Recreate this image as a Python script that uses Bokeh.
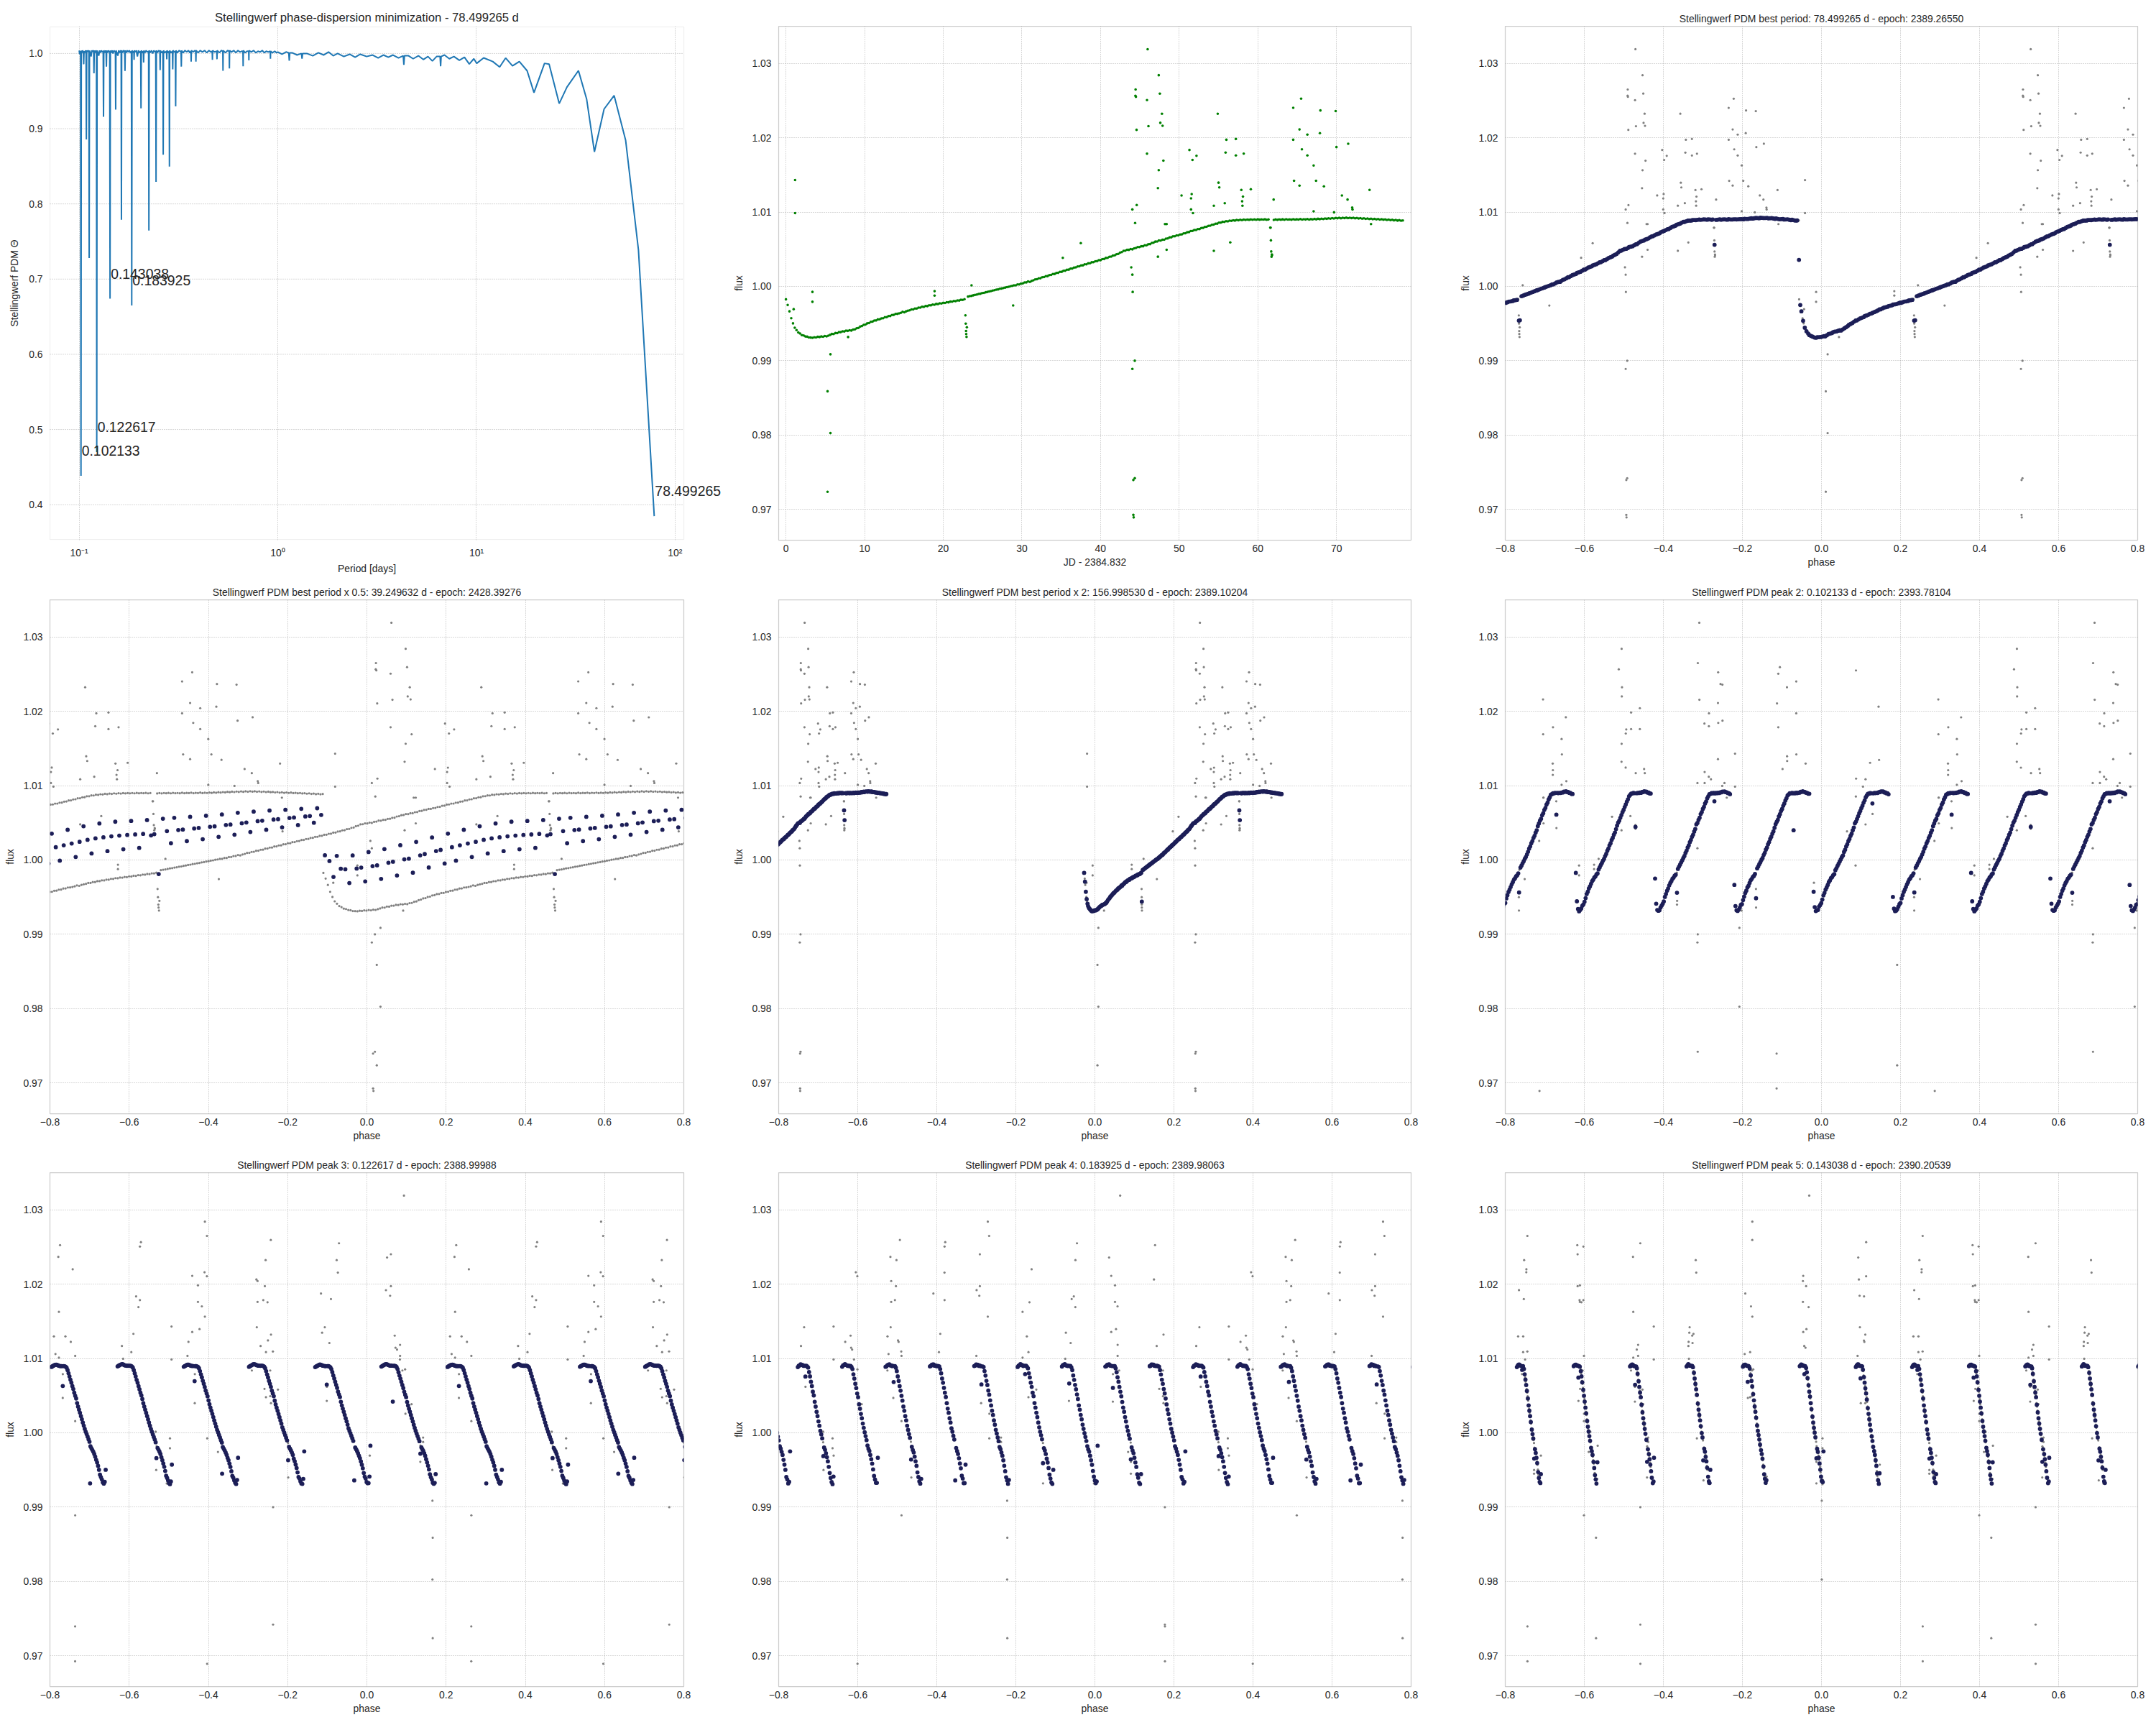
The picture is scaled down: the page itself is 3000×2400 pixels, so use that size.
import numpy as np
from bokeh.plotting import figure
from bokeh.layouts import column, row
from bokeh.models import (Range1d, FixedTicker, PrintfTickFormatter, CustomJSTickFormatter,
                          Label, Title, BoxAnnotation)
from bokeh.embed import file_html
from bokeh.resources import INLINE

# ------------------------------------------------------------------ data
# Stellingwerf PDM periodogram (period [d], theta)
pdm_period = [
    0.1000, 0.1006, 0.1012, 0.1017, 0.102133, 0.1025, 0.1033, 0.1041, 0.1050, 0.1054,
    0.1058, 0.1068, 0.1078, 0.1083, 0.1087, 0.1091, 0.1101, 0.1112, 0.1119, 0.1123,
    0.1127, 0.1137, 0.1148, 0.1158, 0.1168, 0.1178, 0.1183, 0.1187, 0.1191, 0.1203,
    0.1214, 0.1222, 0.122617, 0.1231, 0.1243, 0.1255, 0.1267, 0.1280, 0.1293, 0.1306,
    0.1321, 0.1326, 0.1331, 0.1345, 0.1358, 0.1366, 0.1371, 0.1376, 0.1390, 0.1404,
    0.1420, 0.1425, 0.143038, 0.1436, 0.1450, 0.1466, 0.1481, 0.1497, 0.1512, 0.1522,
    0.1527, 0.1532, 0.1548, 0.1565, 0.1582, 0.1600, 0.1620, 0.1627, 0.1632, 0.1637,
    0.1655, 0.1675, 0.1695, 0.1701, 0.1707, 0.1727, 0.1747, 0.1768, 0.1789, 0.1810,
    0.1832, 0.183925, 0.1846, 0.1868, 0.1885, 0.1890, 0.1895, 0.1918, 0.1941, 0.1964,
    0.1988, 0.2012, 0.2040, 0.2048, 0.2056, 0.2080, 0.2104, 0.2111, 0.2118, 0.2146,
    0.2174, 0.2203, 0.2236, 0.2244, 0.2252, 0.2282, 0.2313, 0.2344, 0.2376, 0.2408,
    0.2429, 0.2438, 0.2447, 0.2480, 0.2514, 0.2548, 0.2556, 0.2564, 0.2600, 0.2640,
    0.2649, 0.2658, 0.2700, 0.2752, 0.2761, 0.2770, 0.2810, 0.2838, 0.2847, 0.2856,
    0.2900, 0.2949, 0.2958, 0.2967, 0.3010, 0.3050, 0.3060, 0.3070, 0.3120, 0.3190,
    0.3258, 0.3268, 0.3278, 0.3340, 0.3410, 0.3480, 0.3550, 0.3610, 0.3652, 0.3662,
    0.3672, 0.3750, 0.3830, 0.3860, 0.3870, 0.3880, 0.3970, 0.4070, 0.4170, 0.4280,
    0.4390, 0.4500, 0.4610, 0.4676, 0.4686, 0.4696, 0.4800, 0.4928, 0.4940, 0.4952,
    0.5080, 0.5200, 0.5285, 0.5297, 0.5309, 0.5450, 0.5590, 0.5692, 0.5705, 0.5718,
    0.5850, 0.6000, 0.6150, 0.6300, 0.6450, 0.6600, 0.6675, 0.6690, 0.6705, 0.6850,
    0.7000, 0.7135, 0.7150, 0.7165, 0.7350, 0.7550, 0.7750, 0.7950, 0.8150, 0.8350,
    0.8550, 0.8750, 0.8950, 0.9160, 0.9180, 0.9200, 0.9400, 0.9650, 0.9850, 1.0000,
    1.05, 1.10, 1.135, 1.142, 1.149, 1.18, 1.25, 1.315, 1.324, 1.333,
    1.40, 1.50, 1.60, 1.70, 1.80, 1.90, 2.00, 2.15, 2.30, 2.45,
    2.60, 2.80, 3.00, 3.20, 3.40, 3.60, 3.80, 4.05, 4.28, 4.31,
    4.34, 4.55, 4.80, 5.10, 5.40, 5.70, 6.00, 6.30, 6.56, 6.60,
    6.64, 6.90, 7.30, 7.70, 8.20, 8.70, 9.20, 9.70,
    10.03, 10.87, 12.08, 13.08, 14.02, 15.18, 16.44, 17.99, 19.48, 22.01,
    23.21, 26.09, 28.55, 32.61, 35.87, 39.25, 43.89, 49.33, 56.34, 65.37, 78.499265,
]
pdm_theta = [
    1.004, 0.999, 1.003, 1.002, 0.4385, 1.004, 1.001, 1.004, 1.002, 0.9857,
    1.003, 1.001, 1.004, 1.003, 0.8857, 1.004, 1.002, 1.004, 1.003, 0.728,
    1.004, 1.001, 0.996, 1.004, 1.002, 1.004, 1.003, 0.9737, 1.004, 1.001,
    1.004, 1.003, 0.470, 1.004, 1.001, 0.997, 1.004, 1.001, 1.004, 1.002,
    1.003, 0.9159, 1.004, 1.001, 1.004, 1.002, 0.9825, 1.004, 1.001, 1.004,
    1.002, 1.003, 0.674, 1.004, 1.001, 1.004, 1.000, 1.004, 1.002, 1.003,
    0.9254, 1.004, 1.001, 0.997, 1.004, 1.001, 1.004, 1.003, 0.779, 1.004,
    1.001, 1.004, 1.003, 0.9768, 1.004, 1.001, 1.004, 1.002, 1.004, 1.001,
    1.003, 0.665, 1.004, 1.001, 1.003, 0.9915, 1.004, 1.002, 1.004, 0.996,
    1.004, 1.001, 1.003, 0.927, 1.004, 1.001, 1.003, 0.988, 1.004, 1.001,
    1.004, 1.002, 1.003, 0.7646, 1.004, 1.001, 1.004, 1.000, 1.004, 1.002,
    1.003, 0.8294, 1.004, 1.001, 1.004, 1.003, 0.978, 1.004, 1.001, 1.003,
    0.8655, 1.004, 1.001, 1.003, 0.9924, 1.004, 1.001, 1.003, 0.8497, 1.004,
    1.001, 1.003, 0.9788, 1.004, 1.002, 1.003, 0.9297, 1.004, 1.001, 1.004,
    1.002, 0.9826, 1.004, 1.001, 1.004, 1.002, 1.004, 1.001, 1.003, 0.9892,
    1.004, 1.002, 1.004, 1.003, 0.9892, 1.004, 1.001, 1.004, 1.002, 1.004,
    1.001, 1.004, 1.002, 1.003, 0.9915, 1.004, 1.002, 1.003, 0.9924, 1.004,
    1.001, 1.004, 1.003, 0.977, 1.004, 1.001, 1.004, 1.003, 0.980, 1.004,
    1.002, 1.004, 1.001, 1.004, 1.002, 1.003, 1.003, 0.983, 1.004, 1.001,
    1.003, 1.003, 0.9908, 1.004, 1.002, 1.004, 1.001, 1.003, 1.002, 1.004,
    1.001, 1.003, 1.002, 1.003, 0.993, 1.003, 1.001, 1.003, 1.001, 1.002,
    0.999, 1.002, 1.001, 0.9905, 1.001, 1.001, 0.998, 1.000, 0.993, 1.000,
    1.000, 0.997, 1.001, 0.998, 1.002, 0.997, 1.000, 0.996, 0.999, 0.995,
    0.999, 0.996, 0.998, 0.994, 0.998, 0.995, 0.998, 0.994, 0.997, 0.985,
    0.997, 0.997, 0.993, 0.997, 0.992, 0.996, 0.990, 0.996, 0.996, 0.983,
    0.996, 0.998, 0.993, 0.996, 0.991, 0.995, 0.986, 0.993,
    0.9869, 0.9942, 0.9893, 0.982, 0.994, 0.9835, 0.9893, 0.977, 0.948, 0.9869,
    0.9859, 0.9334, 0.9553, 0.9772, 0.9392, 0.8692, 0.9261, 0.9441, 0.8848, 0.7389, 0.3848,
]
peak_period = [78.499265, 0.102133, 0.122617, 0.143038, 0.183925]
peak_theta = [0.3848, 0.4385, 0.470, 0.674, 0.665]
PDM_XTICKS = [0.1, 1, 10, 100]
PDM_YTICKS = [0.4, 0.5, 0.6, 0.7, 0.8, 0.9, 1.0]

# Light curve: regular samples every LC_STRIDE cadences, flux in units of 1e-5 about 1.0
JD_OFFSET = 2384.832
CADENCE_D = 0.0204317
LC_STRIDE = 11
lc_flux_e5 = [
    -173, -250, -335, -428, -497, -556, -588, -620, -634, -655,
    -660, -673, -676, -687, -688, -691, -684, -686, -678, -681,
    -673, -677, -668, -672, -662, -652, -640, -641, -627, -628,
    -615, -615, -604, -606, -595, -598, -590, -594, -580, -578,
    -563, -558, -540, -533, -517, -513, -497, -493, -477, -473,
    -459, -458, -444, -443, -430, -428, -414, -413, -399, -398,
    -384, -383, -370, -369, -363, -355, -342, -348, -335, -327,
    -321, -309, -309, -297, -297, -285, -285, -274, -275, -264,
    -265, -254, -255, -244, -246, -236, -238, -228, -230, -220,
    -222, -212, -214, -204, -206, -196, -198, -188, -190, -180,
    -181, -171, -640, -137, -131, -127, -120, -113, -110, -102,
    -98, -90, -87, -79, -74, -67, -63, -55, -51, -44,
    -40, -32, -28, -21, -16, -9, -5, 3, 7, 15,
    15, 27, 27, 39, 40, 53, 54, 67, 61, 74,
    82, 95, 96, 109, 110, 124, 125, 138, 139, 153,
    154, 167, 168, 182, 183, 196, 197, 211, 212, 225,
    226, 240, 241, 254, 256, 269, 270, 283, 284, 297,
    298, 311, 312, 325, 326, 339, 340, 353, 354, 368,
    369, 383, 385, 399, 401, 415, 418, 433, 437, 455,
    462, 479, 481, 493, 492, 503, 499, 513, 517, 530,
    529, 540, 540, 553, 554, 567, 569, 585, 589, 603,
    605, 618, 617, 629, 629, 643, 645, 659, 661, 674,
    675, 687, 687, 699, 700, 713, 715, 729, 731, 745,
    747, 759, 759, 771, 772, 785, 787, 801, 802, 815,
    817, 830, 831, 844, 845, 858, 858, 869, 868, 878,
    876, 885, 882, 890, 886, 894, 889, 897, 892, 899,
    894, 900, 896, 901, 897, 902, 897, 903, 898, 902,
    899, 903, 897, 901, 790, 420, 895, 901, 896, 902,
    898, 903, 897, 904, 899, 902, 898, 905, 899, 903,
    900, 906, 899, 904, 901, 907, 900, 905, 902, 908,
    903, 910, 905, 912, 907, 914, 910, 917, 912, 919,
    914, 921, 916, 923, 917, 924, 918, 925, 919, 924,
    918, 923, 916, 921, 914, 919, 912, 916, 909, 914,
    906, 911, 904, 909, 902, 907, 900, 904, 898, 902,
    895, 899, 892, 897, 889, 894, 886, 891, 884, 888,
]
# short dips (part of the light curve), time in days since JD_OFFSET
event_t = [22.82, 22.86, 22.90, 22.96, 23.00, 61.62, 61.66, 61.70, 61.74, 61.78]
event_flux = [0.99610, 0.99500, 0.99400, 0.99320, 0.99450,
              1.00790, 1.00620, 1.00470, 1.00400, 1.00430]
# outlying points
outlier_t = [
    1.17, 1.17, 0.99, 3.38, 3.38, 5.30, 5.30, 5.65, 5.65, 7.90,
    18.90, 18.90, 23.60, 28.90, 35.20, 37.50, 43.90, 44.05, 44.10, 44.05,
    44.35, 44.17, 44.35, 44.17, 44.22, 44.05, 44.40, 44.60, 44.46, 44.44,
    44.50, 44.58, 46.00, 45.90, 46.10, 45.90, 47.40, 47.55, 47.80, 47.60,
    47.90, 48.00, 47.40, 47.30, 48.20, 48.40, 47.30, 48.40, 51.30, 51.70,
    52.20, 50.30, 51.60, 51.50, 51.50, 51.75, 54.90, 55.00, 55.10, 56.00,
    55.90, 55.80, 54.40, 54.40, 56.50, 57.20, 57.20, 58.20, 57.90, 58.10,
    58.00, 58.05, 59.10, 62.00, 64.50, 64.50, 64.60, 65.30, 65.50, 65.60,
    65.30, 66.30, 66.30, 67.10, 67.40, 67.10, 67.95, 67.90, 68.40, 69.90,
    70.00, 69.70, 71.50, 70.70, 71.40, 72.00, 72.05, 74.20, 74.40,
]
outlier_flux = [
    1.01431, 1.00987, 0.99694, 0.99926, 0.99793, 0.98589, 0.97237, 0.99087, 0.98026, 0.99319,
    0.99936, 0.99877, 1.00015, 0.99743, 1.00385, 1.00582, 1.00257, 1.00158, 0.99926, 0.98890,
    0.99000, 0.97395, 0.97420, 0.96926, 0.96892, 1.01036, 1.00854, 1.01095, 1.02650, 1.02566,
    1.02551, 1.02107, 1.03192, 1.02507, 1.02156, 1.01786, 1.02842, 1.02595, 1.02324, 1.02201,
    1.02161, 1.01692, 1.01564, 1.01322, 1.00839, 1.00839, 1.00400, 1.00493, 1.01836, 1.01702,
    1.01757, 1.01224, 1.01243, 1.01184, 1.01036, 1.00987, 1.02324, 1.01396, 1.01332, 1.01974,
    1.01801, 1.01120, 1.01086, 1.00479, 1.00592, 1.01984, 1.01762, 1.01786, 1.01298, 1.01209,
    1.01145, 1.01086, 1.01308, 1.01169, 1.02403, 1.01974, 1.01421, 1.02112, 1.02526, 1.01845,
    1.01357, 1.02043, 1.01762, 1.01628, 1.01421, 1.01011, 1.02368, 1.02063, 1.01347, 1.02359,
    1.01875, 1.00997, 1.01920, 1.01224, 1.01169, 1.01061, 1.01036, 1.01298, 1.00839,
]

# phased panels
fold_label = ["best period", "best period x 0.5", "best period x 2",
              "peak 2", "peak 3", "peak 4", "peak 5"]
fold_period = [78.499265, 39.249632, 156.998530, 0.102133, 0.122617, 0.183925, 0.143038]
fold_epoch = [2389.26550, 2428.39276, 2389.10204, 2393.78104, 2388.99988, 2389.98063, 2390.20539]
fold_binsize = [0.004, 0.01, 0.002, 0.002, 0.002, 0.002, 0.002]

assert len(pdm_period) == len(pdm_theta)
assert len(outlier_t) == len(outlier_flux)

# ------------------------------------------------------------------ layout / style
FONT = "Liberation Sans"
TXT = "#262626"
COL_W = [1010, 1010, 980]
COL_L = [69, 73, 74]
FRAME_W = [882, 880, 880]
ROW_H = [802, 796, 802]
ROW_T = [36, 32, 33]
FRAME_H = 715
FLUX_RANGE = (0.96586, 1.03501)
GRID_KW = dict(line_color="#a9a9a9", line_alpha=0.9, line_width=1, line_dash="1 2")


def style_common(p):
    p.background_fill_color = "white"
    p.border_fill_color = "white"
    p.title.align = "center"
    p.title.text_font = FONT
    p.title.text_font_style = "normal"
    p.title.text_color = TXT
    p.title.standoff = 5
    for g in (p.xgrid, p.ygrid):
        g.grid_line_color = "#a9a9a9"
        g.grid_line_alpha = 0.9
        g.grid_line_width = 1
        g.grid_line_dash = "1 2"
    for ax in (p.xaxis, p.yaxis):
        ax.axis_line_color = None
        ax.major_tick_line_color = None
        ax.minor_tick_line_color = None
        ax.major_tick_out = 0
        ax.major_tick_in = 0
        ax.minor_tick_out = 0
        ax.minor_tick_in = 0
        ax.major_label_text_font = FONT
        ax.major_label_text_font_size = "13.9px"
        ax.major_label_text_color = TXT
        ax.axis_label_text_font = FONT
        ax.axis_label_text_font_size = "13.9px"
        ax.axis_label_text_font_style = "normal"
        ax.axis_label_text_color = TXT
    p.yaxis.major_label_standoff = 10
    p.yaxis.axis_label_standoff = 7
    p.xaxis.major_label_standoff = 6
    p.xaxis.axis_label_standoff = 3


def make_fig(r, c, x_range, y_range, title=""):
    w, h = COL_W[c], ROW_H[r]
    p = figure(width=w, height=h, x_range=x_range, y_range=y_range,
               output_backend="svg", toolbar_location=None, tools="")
    p.min_border_left = COL_L[c]
    p.min_border_right = w - COL_L[c] - FRAME_W[c]
    p.min_border_top = ROW_T[r]
    p.min_border_bottom = h - ROW_T[r] - FRAME_H
    p.outline_line_color = "#cccccc"
    p.outline_line_width = 1.25
    p.title.text = title
    p.title.text_font_size = "13.9px"
    style_common(p)
    return p


PHASE_TICKS = [-0.8, -0.6, -0.4, -0.2, 0.0, 0.2, 0.4, 0.6, 0.8]
FLUX_TICKS = [0.97, 0.98, 0.99, 1.00, 1.01, 1.02, 1.03]
phase_fmt = CustomJSTickFormatter(code="return tick.toFixed(1).replace('-', '\u2212');")

# ---- panel 1: periodogram
# visible axes box (data units); the plotting frame is extended to the right so that
# the annotation of the longest period is not cut, as in the original figure
PX0, PX1 = 0.07127, 110.6
PY0, PY1 = 0.3538, 1.0353
BOX_W, BOX_H = 882, 715
EXT_L, EXT_R, EXT_T, EXT_B = 1, 55, 1, 1
lx0, lx1 = np.log10(PX0), np.log10(PX1)
dlx = (lx1 - lx0) / BOX_W
dly = (PY1 - PY0) / BOX_H
p1 = figure(width=COL_W[0], height=ROW_H[0], x_axis_type="log",
            x_range=Range1d(10 ** (lx0 - EXT_L * dlx), 10 ** (lx1 + EXT_R * dlx)),
            y_range=Range1d(PY0 - EXT_B * dly, PY1 + EXT_T * dly),
            output_backend="svg", toolbar_location=None, tools="")
p1.min_border_left = COL_L[0] - EXT_L
p1.min_border_right = COL_W[0] - COL_L[0] - BOX_W - EXT_R
p1.min_border_top = ROW_T[0] - EXT_T
p1.min_border_bottom = ROW_H[0] - ROW_T[0] - BOX_H - EXT_B
p1.outline_line_color = None
style_common(p1)
title1 = "Stellingwerf phase-dispersion minimization - %.6f d" % peak_period[0]
p1.title.text = title1
p1.title.text_font_size = "16.7px"
p1.title.align = "left"
p1.title.offset = EXT_L + BOX_W / 2 - 0.5 * 25.34 * 16.7
p1.ygrid.visible = False
p1.segment(x0=[PX0] * len(PDM_YTICKS), x1=[PX1] * len(PDM_YTICKS),
           y0=PDM_YTICKS, y1=PDM_YTICKS, **GRID_KW)
p1.line(pdm_period, pdm_theta, line_color="#1f77b4", line_width=2)
p1.add_layout(BoxAnnotation(left=PX0, right=PX1, bottom=PY0, top=PY1,
                            fill_alpha=0, line_color="#cccccc", line_width=1.25))
for per, th in zip(peak_period, peak_theta):
    p1.add_layout(Label(x=per, y=th, text="%.6f" % per, x_offset=1, y_offset=35,
                        text_font=FONT, text_font_size="19.4px", text_color=TXT,
                        text_align="left", text_baseline="alphabetic"))
p1.xaxis.ticker = FixedTicker(ticks=PDM_XTICKS, minor_ticks=[])
p1.xaxis.formatter = CustomJSTickFormatter(code="""
const sup = {'-1': '\u207b\u00b9', '0': '\u2070', '1': '\u00b9', '2': '\u00b2'};
const e = Math.round(Math.log10(tick));
return '10' + sup[String(e)];
""")
p1.yaxis.ticker = FixedTicker(ticks=PDM_YTICKS, minor_ticks=[])
p1.yaxis.formatter = PrintfTickFormatter(format="%.1f")
p1.yaxis.axis_label = "Stellingwerf PDM \u0398"
p1.xaxis.major_label_standoff = 9
p1.yaxis.major_label_standoff = 9
p1.yaxis.axis_label_standoff = 9
p1.add_layout(Title(text="Period [days]", align="left",
                    offset=EXT_L + BOX_W / 2 - 0.5 * 5.836 * 13.9,
                    text_font=FONT, text_font_size="13.9px", text_font_style="normal",
                    text_color=TXT, standoff=2), "below")

# ---- light-curve arrays
t_main = np.arange(len(lc_flux_e5)) * LC_STRIDE * CADENCE_D
f_main = 1.0 + np.asarray(lc_flux_e5, dtype=float) * 1e-5
t_evt = np.round(np.asarray(event_t) / CADENCE_D) * CADENCE_D
f_evt = np.asarray(event_flux)
t_out = np.round(np.asarray(outlier_t) / CADENCE_D) * CADENCE_D
f_out = np.asarray(outlier_flux)
t_core = np.concatenate([t_main, t_evt])
f_core = np.concatenate([f_main, f_evt])
t_all = np.concatenate([t_core, t_out])
f_all = np.concatenate([f_core, f_out])

# ---- panel 2: light curve
p2 = make_fig(0, 1, Range1d(-0.923, 79.49), Range1d(*FLUX_RANGE))
p2.scatter(t_all, f_all, size=3.6, fill_color="#008000", line_color=None)
p2.xaxis.ticker = FixedTicker(ticks=[0, 10, 20, 30, 40, 50, 60, 70], minor_ticks=[])
p2.yaxis.ticker = FixedTicker(ticks=FLUX_TICKS, minor_ticks=[])
p2.yaxis.formatter = PrintfTickFormatter(format="%.2f")
p2.xaxis.axis_label = "JD - %.3f" % JD_OFFSET
p2.yaxis.axis_label = "flux"


def phase_of(t, P, E):
    return np.mod(((JD_OFFSET - E) + t) / P, 1.0)


def bin_phased(ph, fl, size):
    idx = np.floor(ph / size).astype(int)
    _, inv = np.unique(idx, return_inverse=True)
    cnt = np.bincount(inv)
    return np.bincount(inv, weights=ph) / cnt, np.bincount(inv, weights=fl) / cnt


cells = [(0, 2), (1, 0), (1, 1), (1, 2), (2, 0), (2, 1), (2, 2)]
phased = []
for i, (r, c) in enumerate(cells):
    P, E = fold_period[i], fold_epoch[i]
    title = "Stellingwerf PDM %s: %.6f d - epoch: %.5f" % (fold_label[i], P, E)
    p = make_fig(r, c, Range1d(-0.8, 0.8), Range1d(*FLUX_RANGE), title=title)
    ph_all = phase_of(t_all, P, E)
    p.scatter(np.concatenate([ph_all - 1, ph_all]), np.concatenate([f_all, f_all]),
              size=3.2, fill_color="#808080", line_color=None)
    bp, bf = bin_phased(phase_of(t_core, P, E), f_core, fold_binsize[i])
    p.scatter(np.concatenate([bp - 1, bp]), np.concatenate([bf, bf]),
              size=5.8, fill_color="#1c1e57", line_color=None)
    p.xaxis.ticker = FixedTicker(ticks=PHASE_TICKS, minor_ticks=[])
    p.xaxis.formatter = phase_fmt
    p.yaxis.ticker = FixedTicker(ticks=FLUX_TICKS, minor_ticks=[])
    p.yaxis.formatter = PrintfTickFormatter(format="%.2f")
    p.xaxis.axis_label = "phase"
    p.yaxis.axis_label = "flux"
    phased.append(p)

layout = column(row(p1, p2, phased[0]),
                row(phased[1], phased[2], phased[3]),
                row(phased[4], phased[5], phased[6]))

open("out.html", "w").write(file_html(layout, INLINE))
